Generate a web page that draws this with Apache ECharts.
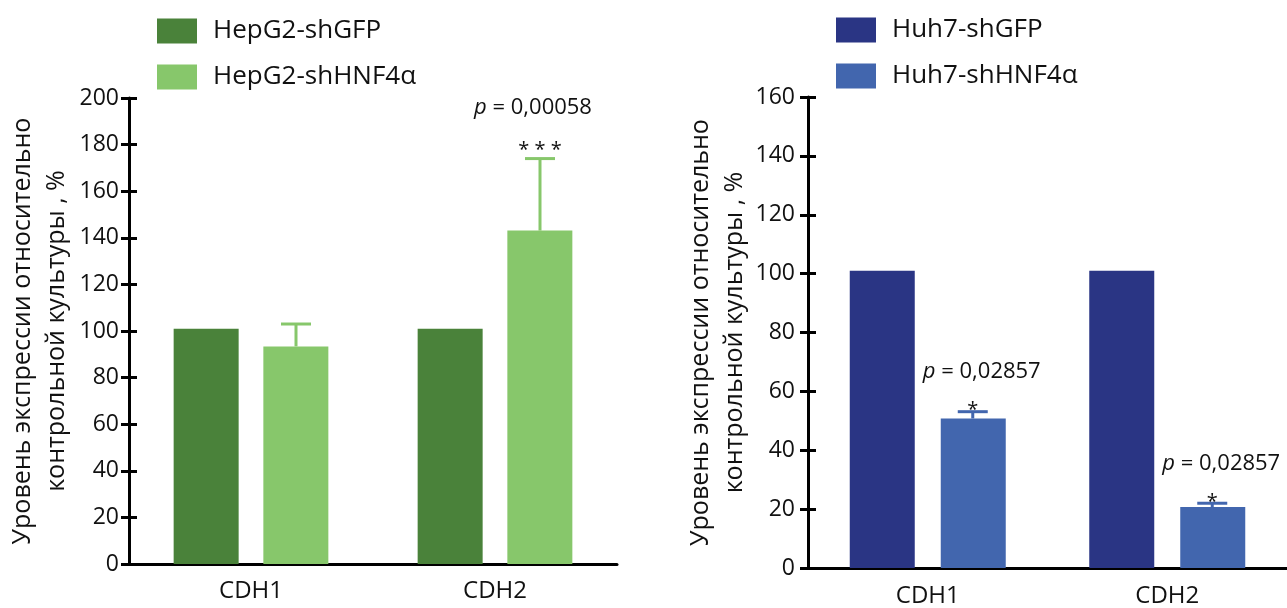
<!DOCTYPE html>
<html>
<head>
<meta charset="utf-8">
<script src="https://cdn.jsdelivr.net/npm/echarts@6/dist/echarts.min.js"></script>
<style>
html,body{margin:0;padding:0;background:#fff;}
#chart{width:1287px;height:608px;}
</style>
</head>
<body>
<div id="chart"></div>
<script>
// ---- data ----
const categories = ['CDH1', 'CDH2'];

const hepgNames = ['HepG2-shGFP', 'HepG2-shHNF4α'];
const hepgControl = [101, 101];
const hepgKnockdown = [93.4, 143.1];
const hepgKnockdownErr = [9.6, 30.9];
const hepgPValues = ['', '0,00058'];
const hepgStars = ['', '* * *'];

const huhNames = ['Huh7-shGFP', 'Huh7-shHNF4α'];
const huhControl = [101, 101];
const huhKnockdown = [50.8, 20.7];
const huhKnockdownErr = [2.3, 1.3];
const huhPValues = ['0,02857', '0,02857'];
const huhStars = ['*', '*'];

const hepgAxis = { min: 0, max: 200, interval: 20 };
const huhAxis = { min: 0, max: 160, interval: 20 };

const yAxisTitle = 'Уровень экспрессии относительно\nконтрольной культуры , %';

// ---- styles ----
const FONT = 'Open Sans';
const C = {
  dkGreen: '#4a823a', ltGreen: '#87c76b',
  dkBlue: '#2a3584', ltBlue: '#4266ae', text: '#111'
};

const chart = echarts.init(document.getElementById('chart'), null, { renderer: 'canvas' });

function yAxes(grid, ax, labelMargin, nameGap) {
  return [
    {
      type: 'value', gridIndex: grid, position: 'left', offset: 0,
      min: ax.min, max: ax.max, interval: ax.interval,
      name: yAxisTitle, nameLocation: 'middle', nameRotate: 90, nameGap: nameGap,
      nameTextStyle: { fontFamily: FONT, fontSize: 25, lineHeight: 34, color: C.text },
      axisLine: { show: true, lineStyle: { color: '#000', width: 3 } },
      axisTick: { show: true, length: 8, lineStyle: { color: '#000', width: 3 } },
      axisLabel: { fontFamily: FONT, fontSize: 23, color: C.text, margin: labelMargin },
      splitLine: { show: false }
    },
    {
      type: 'value', gridIndex: grid, position: 'left', offset: 0,
      min: ax.min, max: ax.max, interval: ax.interval,
      axisLine: { show: false },
      axisTick: { show: true, inside: true, length: 8, lineStyle: { color: '#000', width: 3 } },
      axisLabel: { show: false }, splitLine: { show: false }
    }
  ];
}

function xAxis(grid, margin) {
  return {
    type: 'category', gridIndex: grid, data: categories,
    axisLine: { lineStyle: { color: '#000', width: 3 } },
    axisTick: { alignWithLabel: true, length: 8, lineStyle: { color: '#000', width: 3 } },
    axisLabel: { fontFamily: FONT, fontSize: 24, color: C.text, margin: margin },
    splitLine: { show: false }
  };
}

function errSeries(xi, yi, values, errs, pvals, stars, color, cfg) {
  return {
    type: 'custom', xAxisIndex: xi, yAxisIndex: yi, z: 5, clip: false,
    encode: { x: 0, y: 1 },
    data: values.map((v, i) => [i, v, errs[i]]),
    renderItem: function (params, api) {
      const idx = api.value(0), v = api.value(1), e = api.value(2);
      const base = api.coord([idx, v]);
      const top = api.coord([idx, v + e]);
      const x = base[0] + cfg.offset;
      const children = [
        { type: 'line', shape: { x1: x, y1: base[1], x2: x, y2: top[1] },
          style: { stroke: color, lineWidth: 3 } },
        { type: 'line', shape: { x1: x - cfg.cap / 2, y1: top[1], x2: x + cfg.cap / 2, y2: top[1] },
          style: { stroke: color, lineWidth: 3 } }
      ];
      const s = stars[params.dataIndex];
      if (s) {
        children.push({ type: 'text', style: {
          text: s, x: x, y: top[1] + cfg.starDy, align: 'center', verticalAlign: 'middle',
          fontFamily: FONT, fontSize: 20, fill: C.text } });
      }
      const p = pvals[params.dataIndex];
      if (p) {
        children.push({ type: 'text', style: {
          text: '{i|p} = ' + p, x: x + cfg.pDx, y: top[1] + cfg.pDy, align: 'center', verticalAlign: 'middle',
          fontFamily: FONT, fontSize: 22, fill: C.text,
          rich: { i: { fontFamily: FONT, fontSize: 22, fontStyle: 'italic', fill: C.text } } } });
      }
      return { type: 'group', children: children };
    }
  };
}

const option = {
  animation: false,
  backgroundColor: '#fff',
  textStyle: { fontFamily: FONT },
  grid: [
    { left: 129, top: 98, width: 488, height: 466 },
    { left: 808, top: 97, width: 480, height: 472 }
  ],
  legend: [
    { data: hepgNames, orient: 'vertical', left: 157, top: 18, padding: 0,
      itemWidth: 40, itemHeight: 25, itemGap: 20, icon: 'rect',
      textStyle: { fontFamily: FONT, fontSize: 26, color: C.text, padding: [0, 0, 0, 11] } },
    { data: huhNames, orient: 'vertical', left: 836, top: 17, padding: 0,
      itemWidth: 40, itemHeight: 25, itemGap: 20, icon: 'rect',
      textStyle: { fontFamily: FONT, fontSize: 26, color: C.text, padding: [0, 0, 0, 11] } }
  ],
  xAxis: [xAxis(0, 15), xAxis(1, 16)],
  yAxis: [].concat(yAxes(0, hepgAxis, 10, 55), yAxes(1, huhAxis, 13, 54)),
  series: [
    { name: hepgNames[0], type: 'bar', xAxisIndex: 0, yAxisIndex: 0, data: hepgControl,
      barWidth: 65, barGap: '38%', itemStyle: { color: C.dkGreen } },
    { name: hepgNames[1], type: 'bar', xAxisIndex: 0, yAxisIndex: 0, data: hepgKnockdown,
      barWidth: 65, barGap: '38%', itemStyle: { color: C.ltGreen } },
    errSeries(0, 0, hepgKnockdown, hepgKnockdownErr, hepgPValues, hepgStars, C.ltGreen,
      { offset: 45, cap: 30, starDy: -8, pDx: -7, pDy: -51 }),
    { name: huhNames[0], type: 'bar', xAxisIndex: 1, yAxisIndex: 2, data: huhControl,
      barWidth: 65, barGap: '40%', itemStyle: { color: C.dkBlue } },
    { name: huhNames[1], type: 'bar', xAxisIndex: 1, yAxisIndex: 2, data: huhKnockdown,
      barWidth: 65, barGap: '40%', itemStyle: { color: C.ltBlue } },
    errSeries(1, 2, huhKnockdown, huhKnockdownErr, huhPValues, huhStars, C.ltBlue,
      { offset: 45, cap: 30, starDy: -1, pDx: 9, pDy: -40 })
  ]
};
chart.setOption(option);
</script>
</body>
</html>
